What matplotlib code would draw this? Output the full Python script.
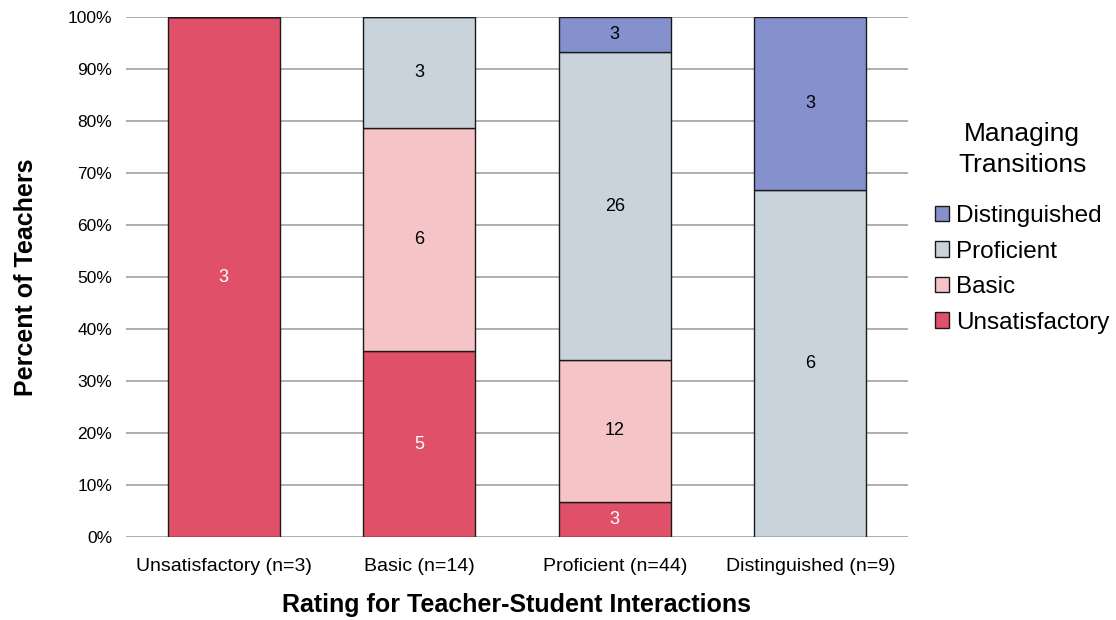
import matplotlib
matplotlib.use("Agg")
import matplotlib.pyplot as plt
import numpy as np
from matplotlib.ticker import PercentFormatter

categories = ["Unsatisfactory (n=3)", "Basic (n=14)", "Proficient (n=44)", "Distinguished (n=9)"]
series_names = ["Unsatisfactory", "Basic", "Proficient", "Distinguished"]
unsatisfactory = [3, 5, 3, 0]
basic = [0, 6, 12, 0]
proficient = [0, 3, 26, 6]
distinguished = [0, 0, 3, 3]
colors = ["#E05068", "#F5C4C7", "#C9D3DC", "#8591CC"]
text_colors = ["white", "black", "black", "black"]

plt.rcParams['font.family'] = ['Liberation Sans', 'DejaVu Sans']

counts = np.array([unsatisfactory, basic, proficient, distinguished], dtype=float)
totals = counts.sum(axis=0)
pct = counts / totals * 100

fig = plt.figure(figsize=(11.16, 6.2), dpi=100)
ax = fig.add_axes([126/1116, 1 - 537/620, (908-126)/1116, (537-17)/620])

x = np.arange(len(categories))
bottom = np.zeros(len(categories))
handles = []
for i, name in enumerate(series_names):
    b = ax.bar(x, pct[i], 0.573, bottom=bottom, color=colors[i], edgecolor="#1a1a1a",
               linewidth=1.0, label=name, zorder=3)
    handles.append(b)
    for j in range(len(categories)):
        if counts[i, j] > 0:
            ax.text(x[j], bottom[j] + pct[i, j] / 2, f"{int(counts[i, j])}", ha="center", va="center",
                    fontsize=13, color=text_colors[i], zorder=4)
    bottom += pct[i]

ax.set_xlim(-0.5, 3.5)
ax.set_ylim(0, 100)
ax.set_yticks(np.arange(0, 101, 10))
ax.yaxis.set_major_formatter(PercentFormatter(decimals=0))
ax.set_xticks(x)
ax.set_xticklabels(categories)
ax.tick_params(axis="both", length=0)
ax.tick_params(axis="y", pad=10, labelsize=12.5)
ax.tick_params(axis="x", pad=15, labelsize=14)
ax.grid(axis="y", color="#a0a0a0", linewidth=1.2, zorder=0)
ax.set_axisbelow(True)
for s in ax.spines.values():
    s.set_visible(False)

ax.set_xlabel("Rating for Teacher-Student Interactions", fontsize=18, fontweight="bold", labelpad=13)
ax.set_ylabel("Percent of Teachers", fontsize=18, fontweight="bold", labelpad=21)

leg = ax.legend(handles[::-1], series_names[::-1], title="Managing\nTransitions",
                loc="center left", bbox_to_anchor=(1.006, 0.594), frameon=False,
                fontsize=17.5, title_fontsize=19, handlelength=0.6, handleheight=0.6,
                handletextpad=0.3, labelspacing=0.56)
leg.get_title().set_multialignment("center")
leg.get_title().set_linespacing(1.35)
leg._legend_box.sep = 20

fig.savefig("out.png", dpi=100)
